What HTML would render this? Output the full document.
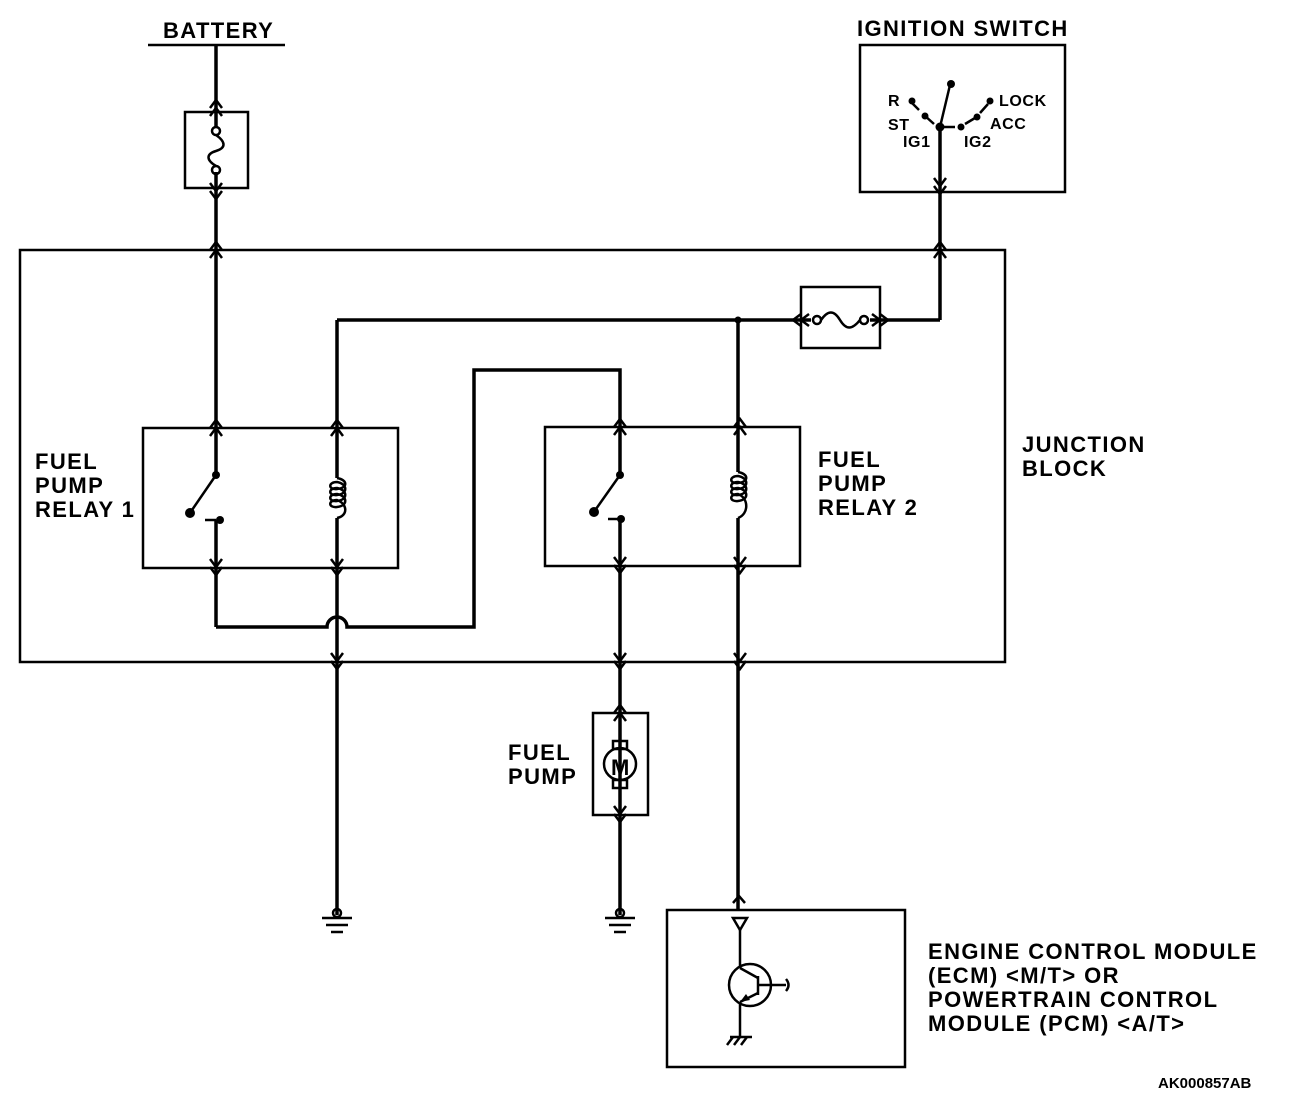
<!DOCTYPE html>
<html><head><meta charset="utf-8"><style>
html,body{margin:0;padding:0;background:#fff;}
svg{display:block;}
text{font-family:"Liberation Sans",sans-serif;fill:#000;}
</style></head><body>
<svg width="1312" height="1102" viewBox="0 0 1312 1102" xmlns="http://www.w3.org/2000/svg">
<defs>
<g id="up"><path d="M-6,12 L0,4 L6,12 M-6,4 L0,-4 L6,4" fill="none" stroke="#000" stroke-width="2.5"/></g>
<g id="dn"><path d="M-6,-12 L0,-4 L6,-12 M-6,-4 L0,4 L6,-4" fill="none" stroke="#000" stroke-width="2.5"/></g>
<g id="lf"><path d="M12,-6 L4,0 L12,6 M4,-6 L-4,0 L4,6" fill="none" stroke="#000" stroke-width="2.5"/></g>
<g id="rt"><path d="M-12,-6 L-4,0 L-12,6 M-4,-6 L4,0 L-4,6" fill="none" stroke="#000" stroke-width="2.5"/></g>
</defs>
<g fill="none" stroke="#000" stroke-width="2.5">
<rect x="20" y="250" width="985" height="412"/>
<rect x="185" y="112" width="63" height="76"/>
<rect x="860" y="45" width="205" height="147"/>
<rect x="801" y="287" width="79" height="61"/>
<rect x="143" y="428" width="255" height="140"/>
<rect x="545" y="427" width="255" height="139"/>
<rect x="593" y="713" width="55" height="102"/>
<rect x="667" y="910" width="238" height="157"/>
<line x1="148" y1="45" x2="285" y2="45"/>
</g>
<g fill="none" stroke="#000" stroke-width="3.5">
<line x1="216" y1="45" x2="216" y2="128"/>
<line x1="216" y1="172" x2="216" y2="475"/>
<line x1="216" y1="520" x2="216" y2="627"/>
<path d="M216,627 L327,627 A10,10 0 0 1 347,627 L474,627 L474,370 L620,370 L620,475"/>
<line x1="620" y1="519" x2="620" y2="915"/>
<line x1="940" y1="127" x2="940" y2="320"/>
<line x1="940" y1="320" x2="870" y2="320"/>
<line x1="811" y1="320" x2="337" y2="320"/>
<line x1="337" y1="320" x2="337" y2="478"/>
<line x1="337" y1="518" x2="337" y2="915"/>
<line x1="738" y1="320" x2="738" y2="472"/>
<line x1="738" y1="518" x2="738" y2="910"/>
</g>
<circle cx="738" cy="320" r="3.5"/>
<g fill="none" stroke="#000" stroke-width="2.5">
<circle cx="216" cy="131" r="4"/><circle cx="216" cy="170" r="4"/>
<path d="M216,135 C226,142 226,148 216,151 C206,154 206,160 216,166"/>
<circle cx="817" cy="320" r="4"/><circle cx="864" cy="320" r="4"/>
<path d="M821,320 C828,310 834,310 840,320 C846,330 852,330 860,320"/>
<path d="M337,478 C348,480 348,488 337,489 C328,490 328,482 337,482 C348,484 348,494 337,495 C328,496 328,488 337,488 C348,490 348,500 337,501 C328,502 328,494 337,494 C348,496 348,506 337,507 C328,508 328,500 337,500 C348,504 348,516 337,518"/>
<path d="M738,472 C749,474 749,482 738,483 C729,484 729,476 738,476 C749,478 749,488 738,489 C729,490 729,482 738,482 C749,484 749,494 738,495 C729,496 729,488 738,488 C749,490 749,500 738,501 C729,502 729,494 738,494 C749,498 749,514 738,518"/>
<line x1="216" y1="475" x2="192" y2="510"/>
<line x1="620" y1="475" x2="596" y2="509"/>
<line x1="205" y1="520" x2="216" y2="520"/>
<line x1="608" y1="519" x2="620" y2="519"/>
<line x1="940" y1="127" x2="950" y2="85"/>
<line x1="912" y1="103" x2="919" y2="110"/>
<line x1="924" y1="115" x2="934" y2="124"/>
<line x1="944" y1="127" x2="955" y2="127"/>
<line x1="965" y1="124" x2="975" y2="118"/>
<line x1="980" y1="113" x2="988" y2="104"/>
<circle cx="620" cy="764" r="16"/>
<rect x="613" y="741" width="14" height="8"/>
<rect x="613" y="780" width="14" height="8"/>
<circle cx="337" cy="913" r="4"/><circle cx="620" cy="913" r="4"/>
<line x1="322" y1="918" x2="352" y2="918"/><line x1="326" y1="925" x2="348" y2="925"/><line x1="331" y1="932" x2="343" y2="932"/>
<line x1="605" y1="918" x2="635" y2="918"/><line x1="609" y1="925" x2="631" y2="925"/><line x1="614" y1="932" x2="626" y2="932"/>
<path d="M733,918 L747,918 L740,930 Z"/>
<line x1="740" y1="930" x2="740" y2="968"/>
<circle cx="750" cy="985" r="21"/>
<line x1="740" y1="968" x2="758" y2="978"/>
<line x1="758" y1="976" x2="758" y2="995"/>
<line x1="740" y1="1002" x2="758" y2="993"/>
<line x1="758" y1="985" x2="786" y2="985"/>
<path d="M786,979 Q791,985 786,991"/>
<line x1="740" y1="1002" x2="740" y2="1037"/>
<line x1="730" y1="1037" x2="752" y2="1037"/>
<line x1="733" y1="1037" x2="727" y2="1045"/><line x1="740" y1="1037" x2="734" y2="1045"/><line x1="747" y1="1037" x2="741" y2="1045"/>
</g>
<text x="611" y="775" font-size="22" font-weight="bold">M</text>
<g fill="#000">
<circle cx="216" cy="475" r="4"/><circle cx="190" cy="513" r="5"/><circle cx="220" cy="520" r="4"/>
<circle cx="620" cy="475" r="4"/><circle cx="594" cy="512" r="5"/><circle cx="621" cy="519" r="4"/>
<circle cx="940" cy="127" r="4.5"/><circle cx="951" cy="84" r="4"/><circle cx="912" cy="101" r="3.5"/>
<circle cx="925" cy="116" r="3.5"/><circle cx="961" cy="127" r="3.5"/><circle cx="977" cy="117" r="3.5"/><circle cx="990" cy="101" r="3.5"/>
<path d="M740,1002 L746,994 L750,1000 Z"/>
</g>
<use href="#up" x="216" y="104"/><use href="#dn" x="216" y="195"/>
<use href="#up" x="216" y="246"/>
<use href="#dn" x="940" y="190"/><use href="#up" x="940" y="246"/>
<use href="#lf" x="797" y="320"/><use href="#rt" x="884" y="320"/>
<use href="#up" x="216" y="424"/><use href="#up" x="337" y="424"/>
<use href="#up" x="620" y="423"/><use href="#up" x="740" y="423"/>
<use href="#dn" x="216" y="571"/><use href="#dn" x="337" y="571"/>
<use href="#dn" x="620" y="569"/><use href="#dn" x="740" y="569"/>
<use href="#dn" x="337" y="665"/><use href="#dn" x="620" y="665"/><use href="#dn" x="740" y="665"/>
<use href="#up" x="620" y="709"/><use href="#dn" x="620" y="818"/>
<path d="M733,903 L739,896 L745,903" fill="none" stroke="#000" stroke-width="2.5"/>
<g font-size="22" font-weight="bold" letter-spacing="1.4">
<text x="163" y="38">BATTERY</text>
<text x="857" y="36">IGNITION SWITCH</text>
<text x="35" y="469">FUEL</text><text x="35" y="493">PUMP</text><text x="35" y="517">RELAY 1</text>
<text x="818" y="467">FUEL</text><text x="818" y="491">PUMP</text><text x="818" y="515">RELAY 2</text>
<text x="1022" y="452">JUNCTION</text><text x="1022" y="476">BLOCK</text>
<text x="508" y="760">FUEL</text><text x="508" y="784">PUMP</text>
<text x="928" y="959">ENGINE CONTROL MODULE</text>
<text x="928" y="983">(ECM) &lt;M/T&gt; OR</text>
<text x="928" y="1007">POWERTRAIN CONTROL</text>
<text x="928" y="1031">MODULE (PCM) &lt;A/T&gt;</text>
</g>
<g font-size="16" font-weight="bold" letter-spacing="0.6">
<text x="888" y="106">R</text><text x="888" y="130">ST</text><text x="903" y="147">IG1</text>
<text x="999" y="106">LOCK</text><text x="990" y="129">ACC</text><text x="964" y="147">IG2</text>
</g>
<text x="1158" y="1088" font-size="15" font-weight="bold">AK000857AB</text>
</svg>
</body></html>
